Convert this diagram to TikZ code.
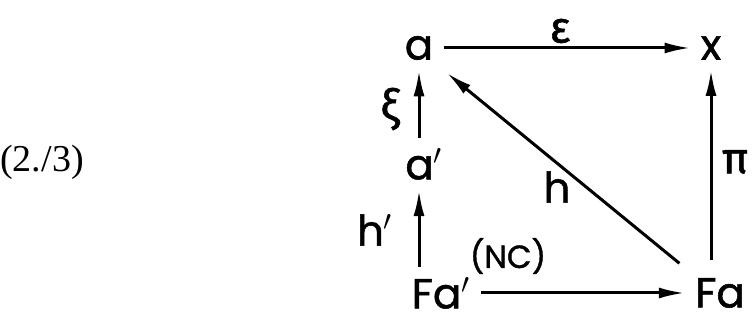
\documentclass[tikz,border=0pt]{standalone}
\usepackage{fontspec}
\setmainfont{Poppins}[UprightFeatures={FakeBold=1.2}]
\newfontfamily\greekfont{Fira Sans}[UprightFeatures={FakeBold=1.2}]
\newfontfamily\eqnfont{Liberation Serif}
\usetikzlibrary{arrows.meta,positioning,calc}
\tikzset{
  obj/.style={inner sep=5pt,font=\fontsize{21}{24}\selectfont},
  lbl/.style={inner sep=1pt,font=\fontsize{21}{24}\selectfont},
  lblg/.style={lbl,font=\greekfont\fontsize{22}{24}\selectfont},
  lbls/.style={inner sep=1pt,font=\fontsize{16}{19}\selectfont},
  arr/.style={-{Latex[length=13pt,width=5.5pt]},line width=1.5pt},
  eqno/.style={inner sep=0pt,font=\eqnfont\fontsize{19}{22}\selectfont},
}
\begin{document}
\begin{tikzpicture}[x=0.5pt,y=0.5pt]
  \useasboundingbox (0,0) rectangle (753,320);
  % the square
  \node[obj](a) at (419,272){a};
  \node[obj](x) at (711,272){x};
  \node[obj](ap) at (424,156){a$'$};
  \node[obj](fap) at (441,27){Fa$'$};
  \node[obj](fa) at (720,27){Fa};
  \draw[arr](a)--(x);
  \draw[arr](ap.north -| a.south)--(a.south);
  \draw[arr](fap.north -| a.south)--(ap.south -| a.south);
  \draw[arr](fap)--(fa);
  \draw[arr,shorten <=4pt](fa.north -| x.south)--(x.south);
  \draw[arr,shorten <=3.5pt,shorten >=2pt](fa.north west)--(a.south east);
  % labels
  \node[lblg](eps) at (560,289){ε};
  \node[lblg](xi) at (390,211){ξ};
  \node[lbl](hp) at (375,90){h$'$};
  \node[lbl](h) at (557,133){h};
  \node[lblg](pi) at (735,158){π};
  \node[lbls](nc) at (508,64){(NC)};
  \node[eqno](eq) at (42,158){(2./3)};
\end{tikzpicture}
\end{document}
